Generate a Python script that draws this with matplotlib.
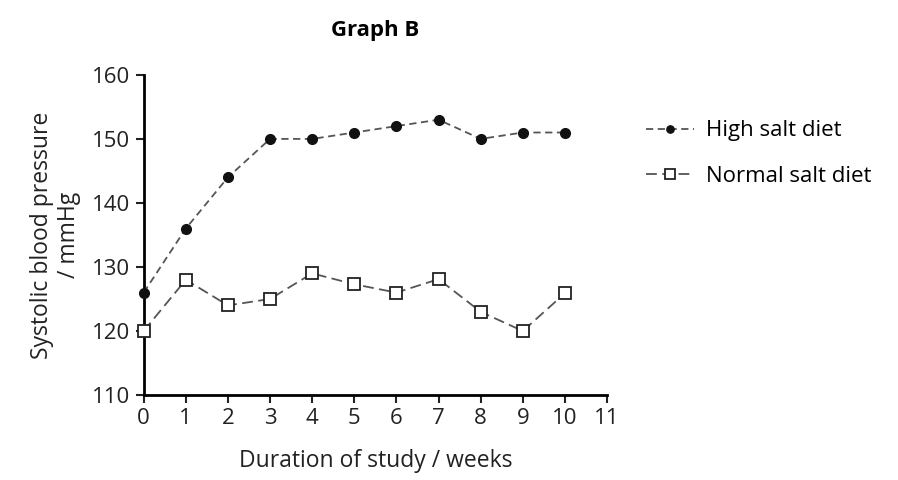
import matplotlib.pyplot as plt

plt.rcParams['font.family'] = ['Open Sans', 'DejaVu Sans']

weeks = [0, 1, 2, 3, 4, 5, 6, 7, 8, 9, 10]
high_salt = [126, 136, 144, 150, 150, 151, 152, 153, 150, 151, 151]
normal_salt = [120, 128, 124, 125, 129, 127.3, 126, 128.1, 123, 120, 125.9]

fig = plt.figure(figsize = (8.98, 4.8), dpi = 100)
ax = fig.add_axes([0.160, 0.177, 0.516, 0.667])

ax.plot(weeks, high_salt, linestyle = (0, (4, 2.5)), color = "#555555", linewidth = 1.3,
        marker = "o", markersize = 7, markerfacecolor = "#111111", markeredgecolor = "#111111",
        label = "High salt diet", clip_on = False, zorder = 3)
ax.plot(weeks, normal_salt, linestyle = (0, (6, 3)), color = "#555555", linewidth = 1.3,
        marker = "s", markersize = 9, markerfacecolor = "white", markeredgecolor = "#222222",
        markeredgewidth = 1.3, label = "Normal salt diet", clip_on = False, zorder = 3)

ax.set_xlim(0, 11)
ax.set_ylim(110, 160)
ax.set_xticks(range(0, 12))
ax.set_yticks(range(110, 161, 10))
ax.spines["top"].set_visible(False)
ax.spines["right"].set_visible(False)
ax.spines["left"].set_linewidth(2)
ax.spines["bottom"].set_linewidth(2)
ax.tick_params(direction = "out", length = 6, width = 1.5, labelsize = 16, colors = "#222222")

ax.set_xlabel("Duration of study / weeks", fontsize = 16.5, color = "#222222", labelpad = 14)
ax.set_ylabel("Systolic blood pressure\n/ mmHg", fontsize = 16.5, color = "#222222", labelpad = 8)
ax.set_title("Graph B", fontsize = 16, fontweight = "bold", pad = 28)

ax.legend(loc = "upper left", bbox_to_anchor = (1.04, 0.92), frameon = False, fontsize = 16,
          handlelength = 2.2, labelspacing = 1.1, handletextpad = 0.5, markerscale = 0.75)

fig.savefig("out.png", dpi = 100)
